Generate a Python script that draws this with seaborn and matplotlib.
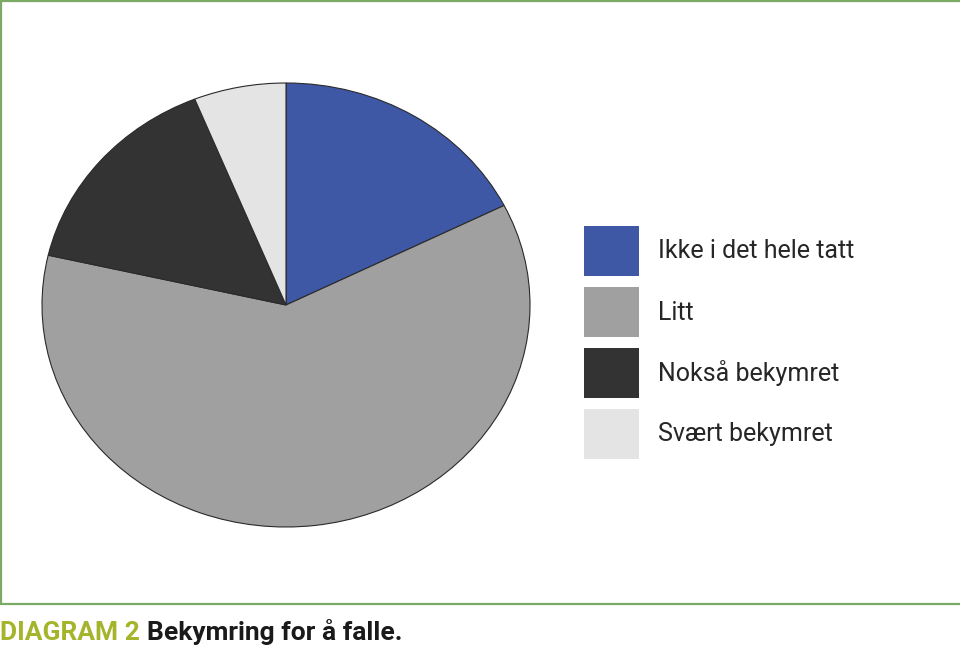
import matplotlib
matplotlib.use("Agg")
import matplotlib.pyplot as plt
import matplotlib.patches as mpatches
from matplotlib.lines import Line2D
import seaborn as sns

# Data
categories = ["Ikke i det hele tatt", "Litt", "Nokså bekymret", "Svært bekymret"]
shares = [17.6, 61.0, 15.3, 6.1]
slice_colors = ["#3f58a6", "#a0a0a0", "#333333", "#e4e4e4"]

caption_label = "DIAGRAM 2"
caption_text = "Bekymring for å falle."

sns.set_theme(style="white")
plt.rcParams["font.family"] = ["Roboto", "DejaVu Sans"]

W, H = 960, 648
fig = plt.figure(figsize=(W / 100, H / 100), dpi=100)
fig.patch.set_facecolor("white")

# pie axes: ellipse centred at (286, 305), radii 244 x 222 px
ax = fig.add_axes([42 / W, 1 - 527 / H, 488 / W, 444 / H])
wedges, _ = ax.pie(shares, colors=slice_colors, startangle=90, counterclock=False,
                   wedgeprops=dict(edgecolor="#2a2a2a", linewidth=0.8))
ax.set_aspect("auto")
ax.set_xlim(-1, 1)
ax.set_ylim(-1, 1)
ax.axis("off")

# legend with big square swatches (55 x 50 px, 61 px pitch)
handles = [mpatches.Patch(facecolor=c, edgecolor="none", label=l)
           for c, l in zip(slice_colors, categories)]
fs = 18
em = fs * 100 / 72
sw_h = 50
hh = (sw_h - 0.245 * em) / 0.65   # drawing-area height giving a 50 px patch
fig.legend(handles=handles, loc="upper left", bbox_to_anchor=(584 / W, 1 - 226 / H),
           frameon=False, fontsize=fs, borderpad=0, borderaxespad=0,
           handlelength=55 / em, handleheight=hh / em, labelspacing=11 / em,
           handletextpad=19 / em)

# green frame (top, left, bottom)
green = "#7aaa66"
for xs, ys in [([1, W], [1, 1]), ([1, 1], [1, 604]), ([1, W], [604, 604])]:
    fig.add_artist(Line2D([x / W for x in xs], [1 - y / H for y in ys],
                          color=green, linewidth=1.6))

# caption
t1 = fig.text(0, 1 - 640 / H, caption_label, color="#a5b52b", fontsize=19,
              fontweight="bold", ha="left", va="baseline")
fig.canvas.draw()
bb = t1.get_window_extent()
fig.text((bb.x1 + 7) / W, 1 - 640 / H, caption_text, color="#1a1a1a", fontsize=19,
         fontweight="bold", ha="left", va="baseline")

fig.savefig("out.png", dpi=100, facecolor="white")
